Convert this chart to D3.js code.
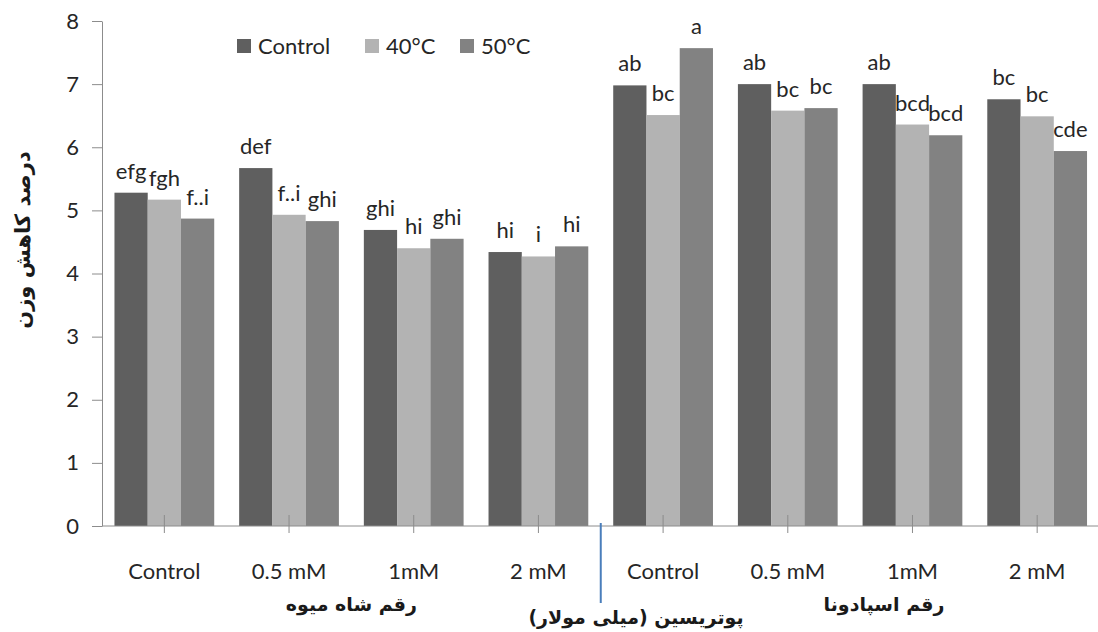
<!DOCTYPE html>
<html>
<head>
<meta charset="utf-8">
<script src="https://cdn.jsdelivr.net/npm/d3@7"></script>
<style>
  body { margin: 0; background: #fff; }
  .axis text { font-family: Lato, "Open Sans", sans-serif; font-size: 22px; fill: #262626; }
  .axis path, .axis line { stroke: #8c8c8c; }
</style>
</head>
<body>
<div id="chart"></div>
<script>
// data
var categories = ["Control", "0.5 mM", "1mM", "2 mM", "Control", "0.5 mM", "1mM", "2 mM"];
var seriesNames = ["Control", "40°C", "50°C"];
var controlValues = [5.28, 5.67, 4.69, 4.34, 6.98, 7.00, 7.00, 6.76];
var c40Values     = [5.17, 4.93, 4.40, 4.27, 6.51, 6.58, 6.36, 6.49];
var c50Values     = [4.87, 4.83, 4.55, 4.43, 7.57, 6.62, 6.19, 5.94];
var controlLetters = ["efg", "def", "ghi", "hi", "ab", "ab", "ab", "bc"];
var c40Letters     = ["fgh", "f..i", "hi", "i", "bc", "bc", "bcd", "bc"];
var c50Letters     = ["f..i", "ghi", "ghi", "hi", "a", "bc", "bcd", "cde"];
var yTicks = [0, 1, 2, 3, 4, 5, 6, 7, 8];
var yTitle = "درصد کاهش وزن";
var group1Title = "رقم شاه میوه";
var group2Title = "رقم اسپادونا";
var xTitle = "پوتریسین (میلی مولار)";

var colors = ["#5f5f5f", "#b3b3b3", "#828282"];
var values = [controlValues, c40Values, c50Values];
var letters = [controlLetters, c40Letters, c50Letters];

var W = 1098, H = 632;
var plot = {left: 102, right: 1099.5, top: 21, bottom: 526};

var svg = d3.select("#chart").append("svg")
    .attr("width", W)
    .attr("height", H)
    .style("background-color", "#fff");

var idx = categories.map(function(d, i){ return i; });

var x0 = d3.scaleBand()
    .domain(idx)
    .range([plot.left, plot.right])
    .paddingInner(0.2)
    .paddingOuter(0.1);

var x1 = d3.scaleBand()
    .domain(seriesNames)
    .range([0, x0.bandwidth()]);

var y = d3.scaleLinear()
    .domain([0, 8])
    .range([plot.bottom, plot.top]);

// y axis
svg.append("g")
    .attr("class", "axis")
    .attr("transform", "translate(" + plot.left + ",0)")
    .call(d3.axisLeft(y).tickValues(yTicks).tickSize(10).tickPadding(13).tickSizeOuter(0));

// bars
var rows = [];
idx.forEach(function(i){
    seriesNames.forEach(function(s, k){
        rows.push({i: i, s: s, k: k, v: values[k][i], lab: letters[k][i]});
    });
});

svg.append("g")
    .selectAll("rect")
    .data(rows)
    .enter()
    .append("rect")
    .attr("x", function(d){ return x0(d.i) + x1(d.s); })
    .attr("y", function(d){ return y(d.v); })
    .attr("width", x1.bandwidth())
    .attr("height", function(d){ return y(0) - y(d.v); })
    .style("fill", function(d){ return colors[d.k]; });

// significance letters
svg.append("g")
    .selectAll("text")
    .data(rows)
    .enter()
    .append("text")
    .attr("x", function(d){ return x0(d.i) + x1(d.s) + x1.bandwidth() / 2; })
    .attr("y", function(d){ return y(d.v) - 14; })
    .attr("text-anchor", "middle")
    .style("font-family", "Lato, 'Open Sans', sans-serif")
    .style("font-size", "22px")
    .style("fill", "#262626")
    .text(function(d){ return d.lab; });

// x axis
var xAxis = svg.append("g")
    .attr("class", "axis")
    .attr("transform", "translate(0," + plot.bottom + ")")
    .call(d3.axisBottom(x0).tickSize(7).tickPadding(30).tickSizeOuter(0)
        .tickFormat(function(i){ return categories[i]; }));
xAxis.select(".domain").attr("d", "M" + plot.left + ",0H" + W);
xAxis.selectAll(".tick line").attr("y1", -11);

// divider between the two cultivars
var divX = x0(4) - x0.step() * x0.paddingInner() / 2;
svg.append("line")
    .attr("x1", divX)
    .attr("x2", divX)
    .attr("y1", plot.bottom - 3)
    .attr("y2", 603)
    .style("stroke", "#4a7ebb")
    .style("stroke-width", 2);

// legend
var legendX = [237, 365, 460];
var legend = svg.append("g")
    .selectAll("g")
    .data(seriesNames)
    .enter()
    .append("g")
    .attr("transform", function(d, k){ return "translate(" + legendX[k] + ",39)"; });
legend.append("rect")
    .attr("width", 14)
    .attr("height", 14)
    .style("fill", function(d, k){ return colors[k]; });
legend.append("text")
    .attr("x", 21)
    .attr("y", 15)
    .style("font-family", "Lato, 'Open Sans', sans-serif")
    .style("font-size", "22px")
    .style("fill", "#262626")
    .text(function(d){ return d; });

// titles
var arabicFont = "'DejaVu Sans', sans-serif";
function arabicText(x, y, txt, size, rot){
    return svg.append("text")
        .attr("transform", "translate(" + x + "," + y + ")" + (rot ? " rotate(" + rot + ")" : ""))
        .attr("text-anchor", "middle")
        .style("font-family", arabicFont)
        .style("font-weight", "bold")
        .style("font-size", size + "px")
        .style("fill", "#1a1a1a")
        .text(txt);
}
arabicText(30, 240, yTitle, 21, -90);
arabicText((x0(1) + x0(2) + x0.bandwidth()) / 2, 611, group1Title, 19);
arabicText(884, 611, group2Title, 19);
arabicText(636, 624, xTitle, 19);
</script>
</body>
</html>
